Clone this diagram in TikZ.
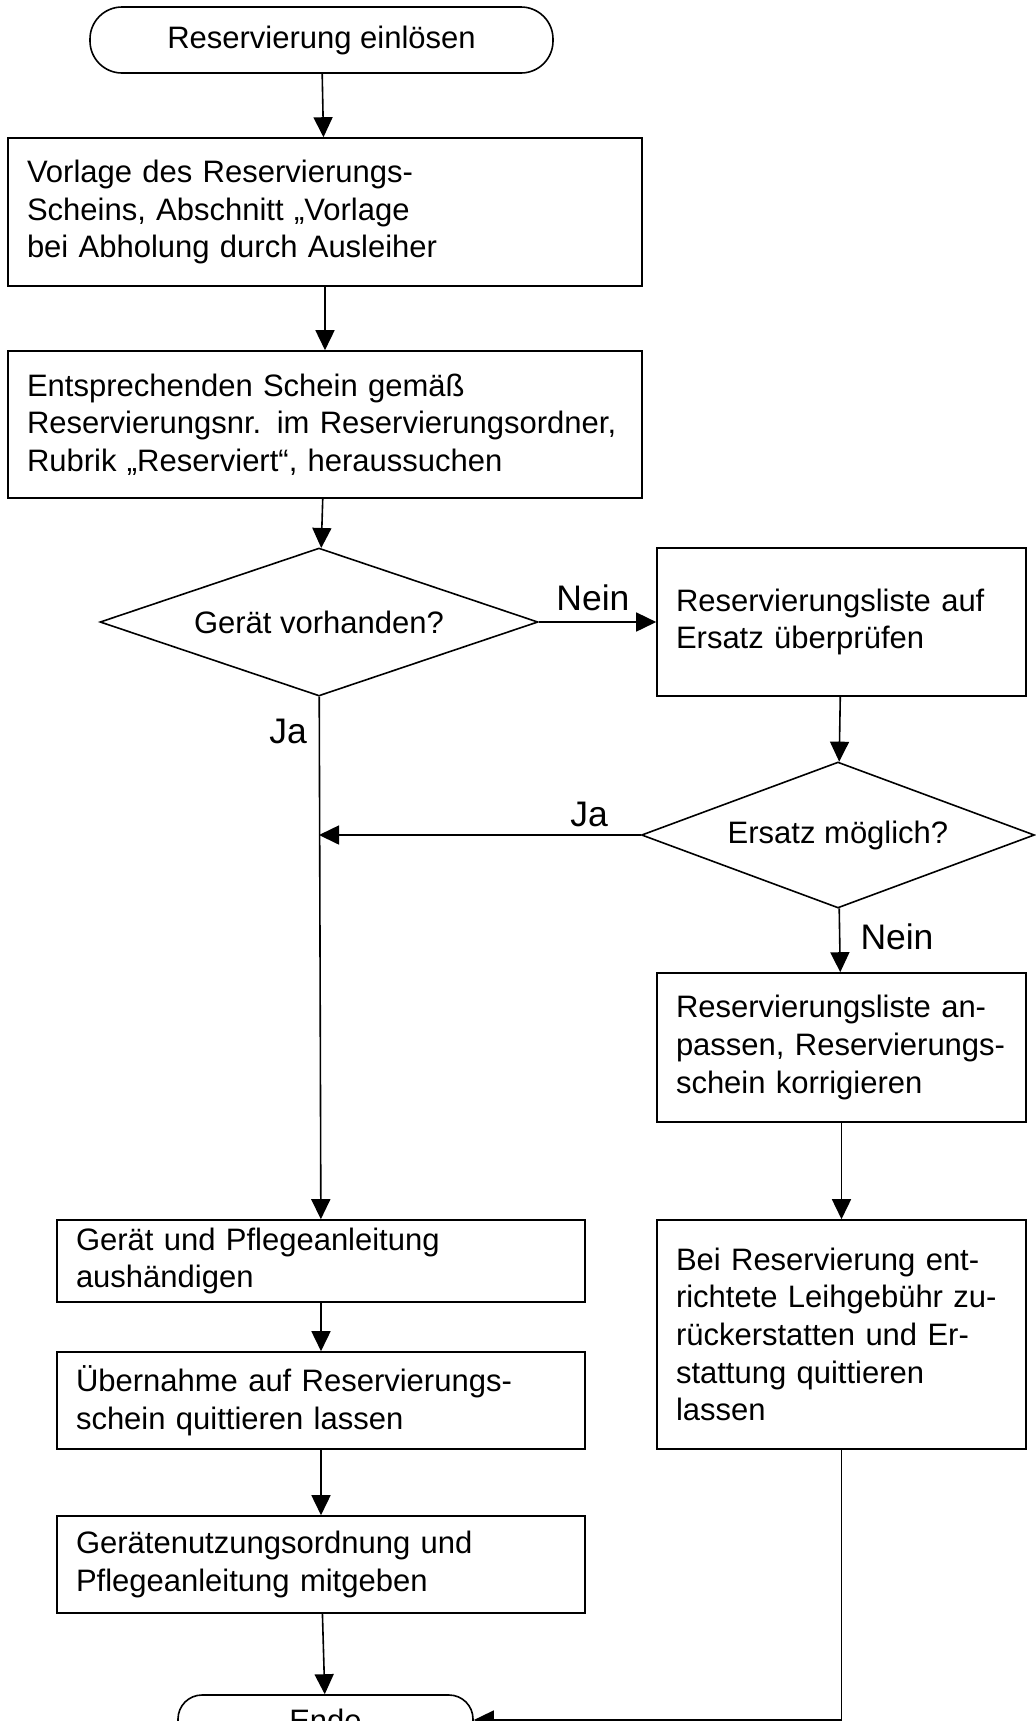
\documentclass[tikz,border=0pt]{standalone}
\usepackage{fontspec}
\setmainfont{Liberation Sans}
\usetikzlibrary{arrows.meta,shapes.geometric}

\tikzset{
  base/.style={draw, line width=0.8pt, font=\fontsize{15.5pt}{18.8pt}\selectfont},
  terminal/.style={base, rectangle, rounded corners=#1, inner sep=2pt},
  stepbox/.style 2 args={base, rectangle, align=left, text width=#1,
    inner xsep=9.5pt, inner ysep=0pt, minimum height=#2},
  decision/.style 2 args={base, diamond, inner sep=0pt,
    minimum width=#1, minimum height=#2},
  answer/.style={font=\fontsize{17.75pt}{20pt}\selectfont, inner sep=0pt},
  flow/.style={draw, line width=0.8pt, -{Triangle[length=10pt,width=9.5pt]}}
}

\begin{document}
\begin{tikzpicture}[x=0.5pt, y=-0.5pt]
  \useasboundingbox (0,0) rectangle (1036,1721);
  % linke Spalte
  \node[terminal=16pt, minimum width=231.5pt, minimum height=33pt] (Start) at (321.5,40) {Reservierung einlösen};
  \node[stepbox={298pt}{74pt}] (Vorlage) at (325,212) {Vorlage des Reservierungs-\\Scheins, Abschnitt „Vorlage\\bei Abholung durch Ausleiher};
  \node[stepbox={298pt}{73.5pt}] (Schein) at (325,424.5) {Entsprechenden Schein gemäß\\Reservierungsnr. im Reservierungsordner,\\Rubrik „Reserviert“, heraussuchen};
  \node[decision={219pt}{74pt}, aspect=2.96] (Geraet) at (319,622) {Gerät vorhanden?};
  \node[stepbox={245pt}{41pt}] (Aushaendigen) at (321,1261) {Gerät und Pflegeanleitung\\aushändigen};
  \node[stepbox={245pt}{48.5pt}] (Uebernahme) at (321,1400.5) {Übernahme auf Reservierungs-\\schein quittieren lassen};
  \node[stepbox={245pt}{48.5pt}] (Mitgeben) at (321,1564.5) {Gerätenutzungsordnung und\\Pflegeanleitung mitgeben};
  \node[terminal=12pt, minimum width=147.5pt, minimum height=25pt] (Ende) at (325.5,1720) {Ende};
  % rechte Spalte
  \node[stepbox={165.5pt}{74pt}] (Liste) at (841.5,622) {Reservierungsliste auf\\Ersatz überprüfen};
  \node[decision={196.5pt}{73pt}, aspect=2.69] (Ersatz) at (838,835) {Ersatz möglich?};
  \node[stepbox={165.5pt}{74.5pt}] (Anpassen) at (841.5,1047.5) {Reservierungsliste an-\\passen, Reservierungs-\\schein korrigieren};
  \node[stepbox={165.5pt}{114.5pt}] (Erstatten) at (841.5,1334.5) {Bei Reservierung ent-\\richtete Leihgebühr zu-\\rückerstatten und Er-\\stattung quittieren\\lassen};
  % Antworten
  \node[answer] (NeinA) at (593,598) {Nein};
  \node[answer] (JaA) at (288,731) {Ja};
  \node[answer] (JaB) at (589,814) {Ja};
  \node[answer] (NeinB) at (897,937) {Nein};
  \coordinate (JaMerge) at (Geraet.south |- Ersatz.west);

  \path[every edge/.style=flow]
  (Start) edge (Vorlage)
  (Vorlage) edge (Schein)
  (Schein) edge (Geraet)
  (Geraet) edge (Liste)
  (Liste) edge (Ersatz)
  (Ersatz) edge (Anpassen)
  (Anpassen) edge (Erstatten)
  (Ersatz.west) edge (JaMerge)
  (Geraet) edge (Aushaendigen)
  (Aushaendigen) edge (Uebernahme)
  (Uebernahme) edge (Mitgeben)
  (Mitgeben) edge (Ende);
  \draw[flow] (Erstatten.south) |- (Ende.east);
\end{tikzpicture}
\end{document}
